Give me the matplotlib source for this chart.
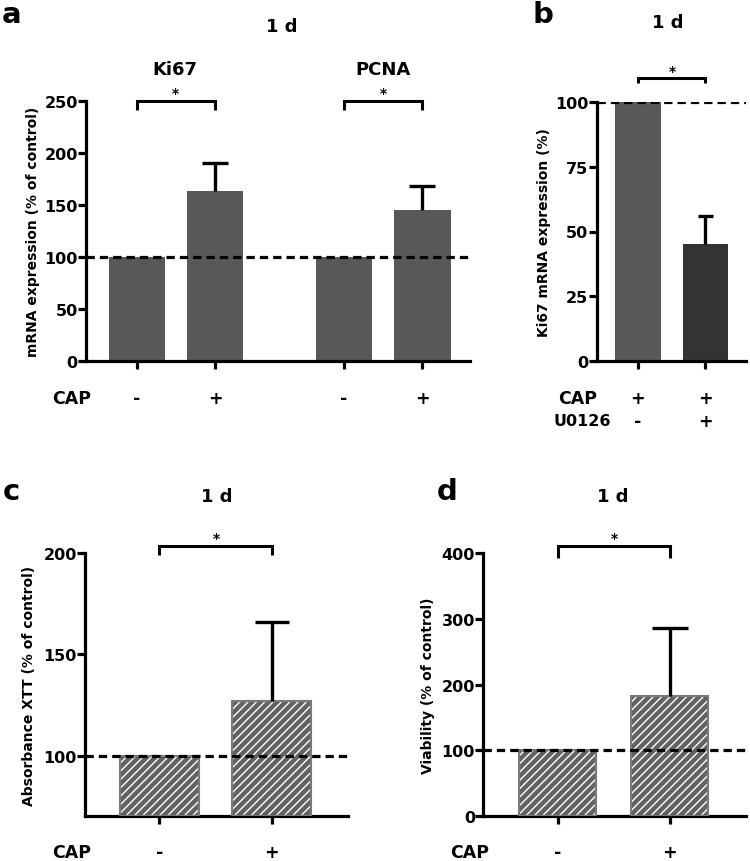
import matplotlib
matplotlib.use("Agg")
import matplotlib.pyplot as plt
import matplotlib.transforms as mtrans

plt.rcParams['font.family'] = ['DejaVu Sans']
plt.rcParams['font.weight'] = 'bold'
plt.rcParams['lines.scale_dashes'] = False
plt.rcParams['hatch.linewidth'] = 1.0

# ---- data ----
a_labels = ["-", "+", "-", "+"]
a_genes = ["Ki67", "PCNA"]
a_values = [100, 163.5, 100, 145]
a_err = [0, 26.5, 0, 23]

b_cap = ["+", "+"]
b_u0126 = ["-", "+"]
b_values = [100, 45.2]
b_err = [0, 10.7]

c_labels = ["-", "+"]
c_values = [100, 126.8]
c_err = [0, 39]

d_labels = ["-", "+"]
d_values = [100, 183.3]
d_err = [0, 102.3]

W, H = 750, 862
fig = plt.figure(figsize=(7.5, 8.62), dpi=100)


def rect(l, t, r, b):
    return [l / W, 1 - b / H, (r - l) / W, (b - t) / H]


def fx(x):
    return x / W


def fy(y):
    return 1 - y / H


LW = 2.3
TICKFS = 11.5
LABFS = 12.5
TITLEFS = 13
YLFS = 10


def style(ax, yticks, ylim):
    for s in ['top', 'right']:
        ax.spines[s].set_visible(False)
    for s in ['left', 'bottom']:
        ax.spines[s].set_linewidth(LW)
    ax.set_ylim(*ylim)
    ax.set_yticks(yticks)
    ax.set_yticklabels([str(v) for v in yticks], fontsize=TICKFS, fontweight='bold')
    ax.tick_params(axis='y', length=6, width=LW, pad=0)
    ax.tick_params(axis='x', length=6, width=LW, labelbottom=False)
    ax.set_facecolor('none')


def dashed(ax, y=100):
    ax.axhline(y, color='black', lw=2.3, linestyle=(0, (6, 3.6)), zorder=5)


def bracket(ax, x1, x2, ytop, ybot):
    ax.plot([x1, x1, x2, x2], [ybot, ytop, ytop, ybot], color='black', lw=2.2,
            clip_on=False, solid_capstyle='butt', solid_joinstyle='miter')


def errbars(ax, xs, vals, errs, capsize):
    for x, v, e in zip(xs, vals, errs):
        if e > 0:
            cont = ax.errorbar([x], [v], yerr=[[0], [e]], fmt='none', ecolor='black',
                               elinewidth=2.4, capsize=capsize, capthick=2.4, zorder=4)
            caps = cont.lines[1]
            if len(caps) > 1:
                caps[0].set_visible(False)


def hatched_bars(ax, xs, vals, width, bottom):
    heights = [v - bottom for v in vals]
    ax.bar(xs, heights, width, bottom=bottom, color='#626262', edgecolor='white',
           hatch='////', linewidth=0, zorder=2)
    ax.bar(xs, heights, width, bottom=bottom, fill=False, edgecolor='#7a7a7a',
           linewidth=1.5, zorder=3)


def xrow(ax, xs, labels, ypix, fs=LABFS):
    t = mtrans.blended_transform_factory(ax.transData, fig.transFigure)
    for x, lab in zip(xs, labels):
        ax.text(x, fy(ypix), lab, transform=t, ha='center', va='center',
                fontsize=fs, fontweight='bold')


def ftext(x, y, s, fs):
    fig.text(fx(x), fy(y), s, ha='center', va='center', fontsize=fs, fontweight='bold')


# ---- panel a ----
axa = fig.add_axes(rect(86, 101.7, 470, 361.7))
xa = [0, 1, 2.65, 3.66]
axa.bar(xa, a_values, 0.72, color='#585858', zorder=2)
errbars(axa, xa, a_values, a_err, 9.4)
dashed(axa)
axa.set_xlim(-0.654, 4.27)
axa.set_xticks(xa)
style(axa, [0, 50, 100, 150, 200, 250], (0, 250))
bracket(axa, xa[0], xa[1], 250, 241)
bracket(axa, xa[2], xa[3], 250, 241)
axa.set_ylabel("mRNA expression (% of control)", fontsize=YLFS, fontweight='bold', labelpad=3)
xrow(axa, xa, a_labels, 399)
ftext(72, 399, "CAP", LABFS)
ftext(175, 70, a_genes[0], TITLEFS)
ftext(383, 70, a_genes[1], TITLEFS)
ftext(175, 94, "*", 10)
ftext(383, 94, "*", 10)
ftext(282, 27, "1 d", TITLEFS)
ftext(12, 15, "a", 21)

# ---- panel b ----
axb = fig.add_axes(rect(596.7, 103.3, 746, 361.7))
xb = [0, 1]
axb.bar(xb, b_values, 0.67, color=['#585858', '#333333'], zorder=2)
errbars(axb, xb, b_values, b_err, 5.4)
dashed(axb)
axb.set_xlim(-0.609, 1.6)
axb.set_xticks(xb)
style(axb, [0, 25, 50, 75, 100], (0, 100))
bracket(axb, xb[0], xb[1], 109.5, 107.5)
axb.set_ylabel("Ki67 mRNA expression (%)", fontsize=YLFS, fontweight='bold', labelpad=3)
xrow(axb, xb, b_cap, 399)
xrow(axb, xb, b_u0126, 422)
ftext(578, 399, "CAP", LABFS)
ftext(582, 422, "U0126", 11.5)
ftext(672, 72, "*", 10)
ftext(668, 23, "1 d", TITLEFS)
ftext(543, 15, "b", 21)

# ---- panel c ----
axc = fig.add_axes(rect(85, 554, 348, 817.3))
xc = [0, 1]
hatched_bars(axc, xc, c_values, 0.70, 70)
errbars(axc, xc, c_values, c_err, 11.9)
dashed(axc)
axc.set_xlim(-0.661, 1.679)
axc.set_xticks(xc)
style(axc, [100, 150, 200], (70, 200))
bracket(axc, xc[0], xc[1], 203.3, 199)
axc.set_ylabel("Absorbance XTT (% of control)", fontsize=YLFS, fontweight='bold', labelpad=5)
xrow(axc, xc, c_labels, 853)
ftext(72, 853, "CAP", LABFS)
ftext(216, 539, "*", 10)
ftext(217, 497, "1 d", TITLEFS)
ftext(11, 492, "c", 21)

# ---- panel d ----
axd = fig.add_axes(rect(483.3, 554, 746, 817.3))
xd = [0, 1]
hatched_bars(axd, xd, d_values, 0.69, 0)
errbars(axd, xd, d_values, d_err, 13.3)
dashed(axd)
axd.set_xlim(-0.662, 1.68)
axd.set_xticks(xd)
style(axd, [0, 100, 200, 300, 400], (0, 400))
bracket(axd, xd[0], xd[1], 410, 392)
axd.set_ylabel("Viability (% of control)", fontsize=YLFS, fontweight='bold', labelpad=5)
xrow(axd, xd, d_labels, 853)
ftext(470, 853, "CAP", LABFS)
ftext(614, 539, "*", 10)
ftext(613, 497, "1 d", TITLEFS)
ftext(447, 492, "d", 21)

fig.savefig("out.png", dpi=100)
